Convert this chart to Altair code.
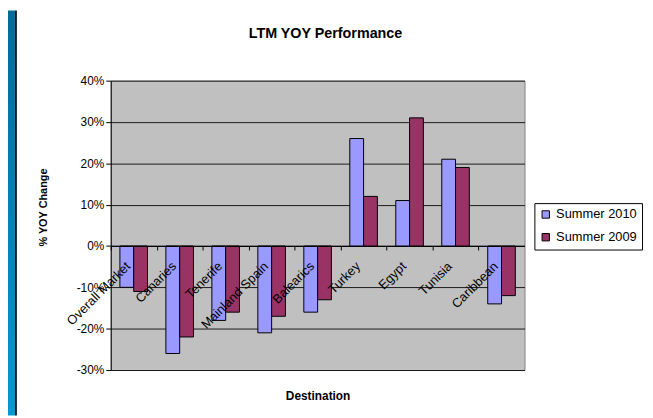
import altair as alt
import pandas as pd

destinations = ["Overall Market", "Canaries", "Tenerife", "Mainland Spain", "Balearics",
                "Turkey", "Egypt", "Tunisia", "Caribbean"]
summer_2010 = [-10, -26, -18, -21, -16, 26, 11, 21, -14]
summer_2009 = [-11, -22, -16, -17, -13, 12, 31, 19, -12]
series = ["Summer 2010", "Summer 2009"]
colors = ["#9999FF", "#993366"]
y_ticks = [-30, -20, -10, 0, 10, 20, 30, 40]

rows = []
for d, a, b in zip(destinations, summer_2010, summer_2009):
    rows.append({"dest": d, "series": series[0], "value": a})
    rows.append({"dest": d, "series": series[1], "value": b})
df = pd.DataFrame(rows)

W, H = 419, 293
FONT = "Liberation Sans"
PAD_IN, PAD_OUT = 0.4, 0.2
step = W / (len(destinations) - PAD_IN + 2 * PAD_OUT)
pos0 = H * 40 / 70
zero_offset = -(H - pos0)

bars = alt.Chart(df).mark_bar(stroke="black", strokeWidth=1).encode(
    x=alt.X("dest:N", sort=destinations,
            scale=alt.Scale(paddingInner=PAD_IN, paddingOuter=PAD_OUT),
            axis=alt.Axis(title="Destination", orient="bottom", offset=zero_offset,
                          tickOffset=-step / 2, labelOffset=step / 2 - 6,
                          labelAngle=-45, labelAlign="right", labelBaseline="middle",
                          labelPadding=14, labelFont=FONT, labelFontSize=13, labelColor="black",
                          tickSize=4, tickColor="black", domainColor="black", zindex=1,
                          grid=False, titleFont=FONT, titleFontSize=12, titleFontWeight="bold",
                          titleColor="black", titleY=151, titleBaseline="middle")),
    xOffset=alt.XOffset("series:N", sort=series,
                        scale=alt.Scale(paddingInner=0, paddingOuter=0)),
    y=alt.Y("value:Q", scale=alt.Scale(domain=[-30, 40], nice=False),
            axis=alt.Axis(values=y_ticks, labelExpr="datum.value + '%'",
                          title="% YOY Change", titleFont=FONT, titleFontSize=11,
                          titleFontWeight="bold", titleColor="black",
                          titleX=-68, titleY=128, titleAlign="center", titleBaseline="middle",
                          labelFont=FONT, labelFontSize=12, labelColor="black", labelPadding=2,
                          tickSize=5, tickColor="black", domainColor="black",
                          grid=True, gridColor="#1a1a1a")),
    color=alt.Color("series:N", sort=series,
                    scale=alt.Scale(domain=series, range=colors),
                    legend=alt.Legend(title=None, orient="none", legendX=429, legendY=124,
                                      strokeColor="black", fillColor="white", padding=5,
                                      symbolType="square", symbolSize=56,
                                      symbolStrokeColor="black", symbolStrokeWidth=1,
                                      labelFont=FONT, labelFontSize=13, labelColor="black",
                                      rowPadding=9)),
)

frame = pd.DataFrame({"k": [0]})
strip = alt.Chart(frame).mark_rect(
    color=alt.Gradient(gradient="linear",
                       stops=[alt.GradientStop(color="#006A9A", offset=0),
                              alt.GradientStop(color="#0099D0", offset=1)],
                       x1=0, x2=0, y1=0, y2=1)
).encode(x=alt.value(-104), x2=alt.value(-97), y=alt.value(-71), y2=alt.value(339))
edge = alt.Chart(frame).mark_rect(color="#101820").encode(
    x=alt.value(-97), x2=alt.value(-95), y=alt.value(-71), y2=alt.value(339))

chart = alt.layer(strip, edge, bars).properties(
    width=W, height=H,
    autosize=alt.AutoSizeParams(type="none"),
    padding={"left": 104, "top": 71, "right": 122, "bottom": 46},
    title=alt.TitleParams("LTM YOY Performance", font=FONT, fontSize=14.5, fontWeight="bold",
                          color="black", anchor="middle", offset=0, dy=31, dx=8),
).configure_view(fill="#C0C0C0", stroke="#808080", strokeWidth=1)

chart.save("out.html", embed_options={"renderer": "svg", "actions": False})
